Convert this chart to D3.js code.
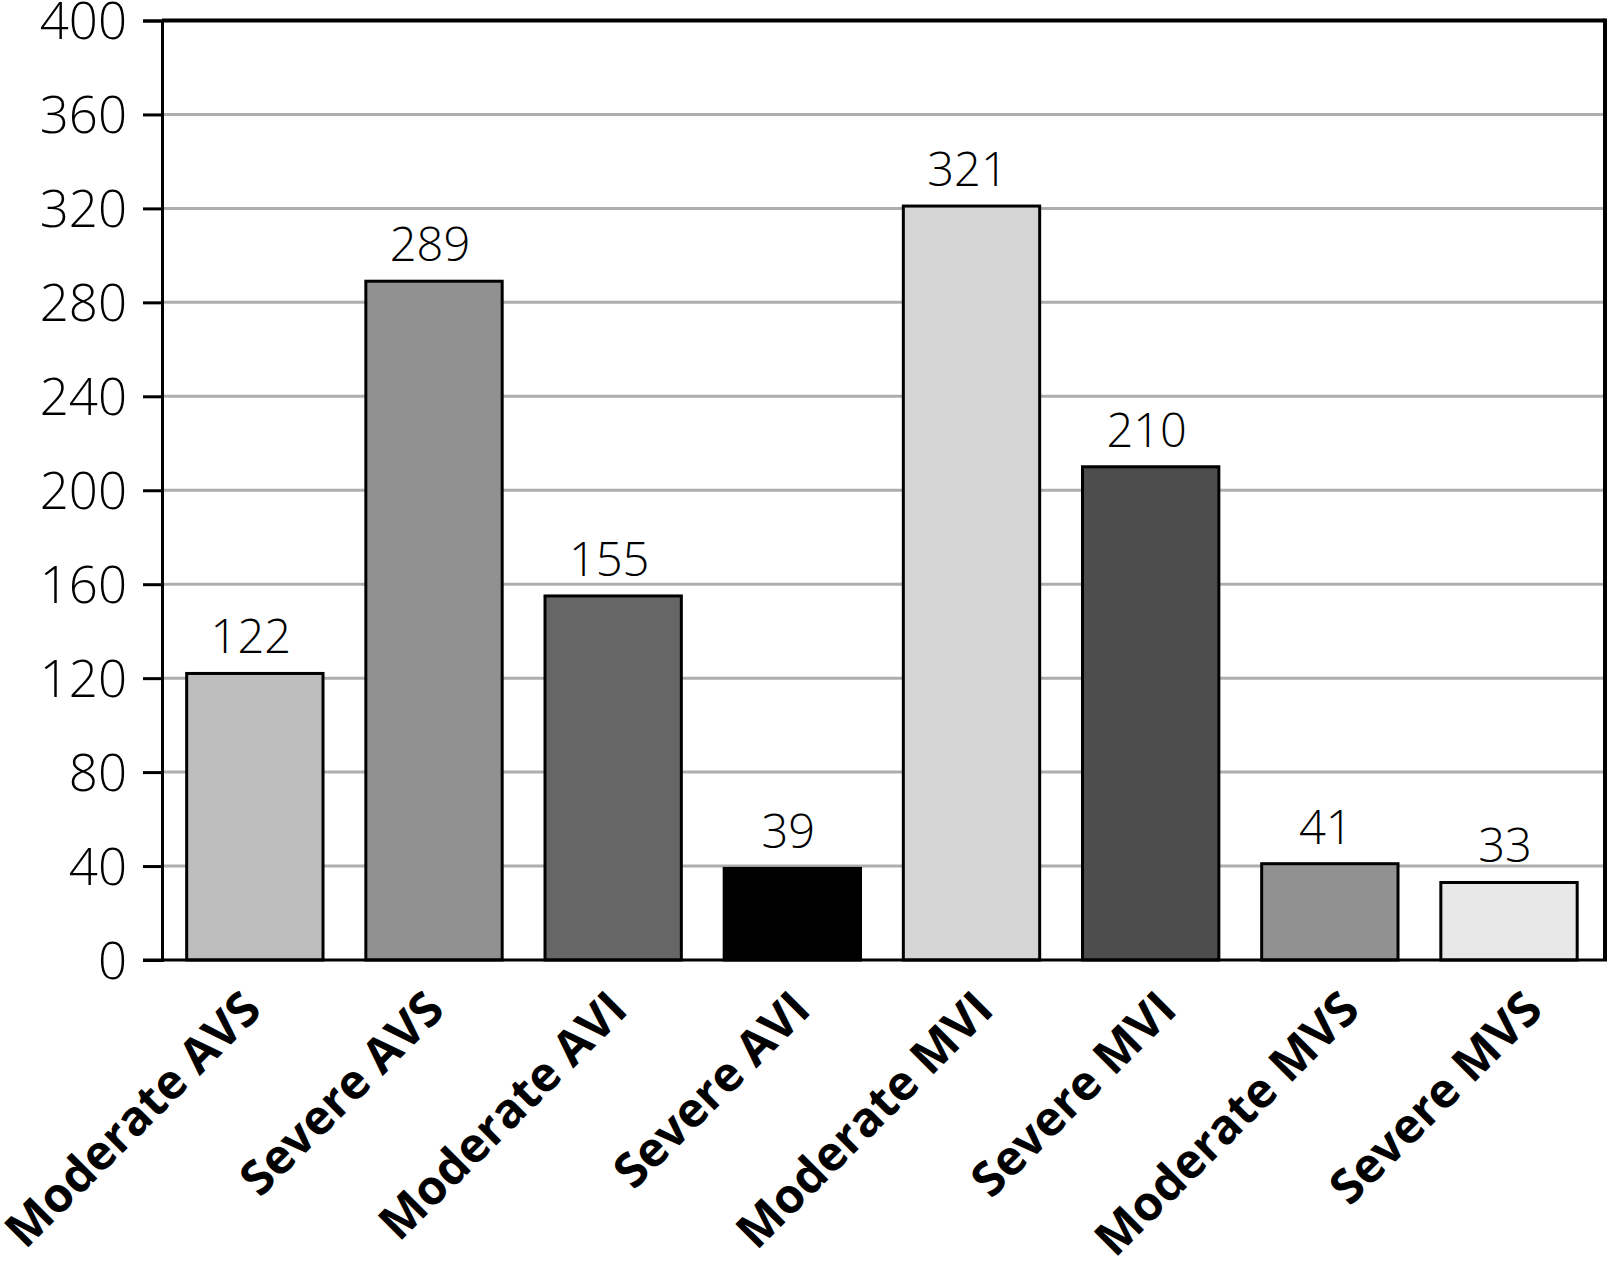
<!DOCTYPE html>
<html><head><meta charset="utf-8">
<script src="https://cdn.jsdelivr.net/npm/d3@7"></script>
<style>html,body{margin:0;padding:0;background:#fff;}svg{display:block;}</style>
</head><body>
<svg id="chart" width="1608" height="1265"></svg>
<script>
const categories = ["Moderate AVS","Severe AVS","Moderate AVI","Severe AVI","Moderate MVI","Severe MVI","Moderate MVS","Severe MVS"];
const values = [122, 289, 155, 39, 321, 210, 41, 33];
const barColors = ["#bdbdbd","#919191","#666666","#000000","#d5d5d5","#4d4d4d","#919191","#e8e8e8"];
const yTicks = [0,40,80,120,160,200,240,280,320,360,400];

const svg = d3.select("#chart");
const L = 162, R = 1605, T = 20.5, B = 960;
const x = d3.scaleBand().domain(categories).range([L, R]).paddingInner(0.239).paddingOuter(0.1465).align(0.47);
const xLabel = d3.scalePoint().domain(categories).range([263.6, 1545]);
const y = d3.scaleLinear().domain([0, 400]).range([B, T]);

// gridlines
svg.append("g").selectAll("line").data(yTicks.filter(d => d > 0 && d < 400)).join("line")
  .attr("x1", L).attr("x2", R).attr("y1", d => y(d)).attr("y2", d => y(d))
  .attr("stroke", "#aeaeae").attr("stroke-width", 3);

// bars
svg.append("g").selectAll("rect").data(categories).join("rect")
  .attr("x", d => x(d)).attr("width", x.bandwidth())
  .attr("y", (d, i) => y(values[i])).attr("height", (d, i) => B - y(values[i]))
  .attr("fill", (d, i) => barColors[i]).attr("stroke", "#000").attr("stroke-width", 3);

// frame top/right
svg.append("line").attr("x1", L).attr("x2", R).attr("y1", T).attr("y2", T).attr("stroke", "#000").attr("stroke-width", 4);
svg.append("line").attr("x1", R).attr("x2", R).attr("y1", T - 2).attr("y2", B).attr("stroke", "#000").attr("stroke-width", 4);

// y axis
const yAxis = svg.append("g").attr("transform", `translate(${L},0)`)
  .call(d3.axisLeft(y).tickValues(yTicks).tickSize(19).tickPadding(16).tickFormat(d3.format("d")));
yAxis.select(".domain").attr("stroke", "#000").attr("stroke-width", 3);
yAxis.selectAll(".tick line").attr("stroke", "#000").attr("stroke-width", 3);
yAxis.selectAll(".tick text").attr("font-family", "'Open Sans', sans-serif").attr("font-weight", 300)
  .attr("font-size", 51).attr("fill", "#000").attr("dy", "0.36em");

// x axis
const xAxis = svg.append("g").attr("transform", `translate(0,${B})`)
  .call(d3.axisBottom(x).tickSize(0).tickPadding(0));
xAxis.select(".domain").attr("stroke", "#000").attr("stroke-width", 3).attr("d", `M${L - 19},0H${R + 2}`);
xAxis.selectAll(".tick").attr("transform", d => `translate(${xLabel(d)},0)`);
xAxis.selectAll(".tick text")
  .attr("font-family", "'Open Sans', sans-serif").attr("font-weight", 700).attr("font-size", 48).attr("fill", "#000")
  .attr("text-anchor", "end").attr("dy", 0).attr("y", 0)
  .attr("transform", "translate(0,52) rotate(-45)");

// value labels
svg.append("g").selectAll("text").data(categories).join("text")
  .attr("x", d => x(d) + x.bandwidth() / 2 - 4).attr("y", (d, i) => y(values[i]) - 20)
  .attr("text-anchor", "middle").attr("font-family", "'Open Sans', sans-serif").attr("font-weight", 300)
  .attr("font-size", 47).attr("fill", "#000").text((d, i) => values[i]);
</script>
</body></html>
